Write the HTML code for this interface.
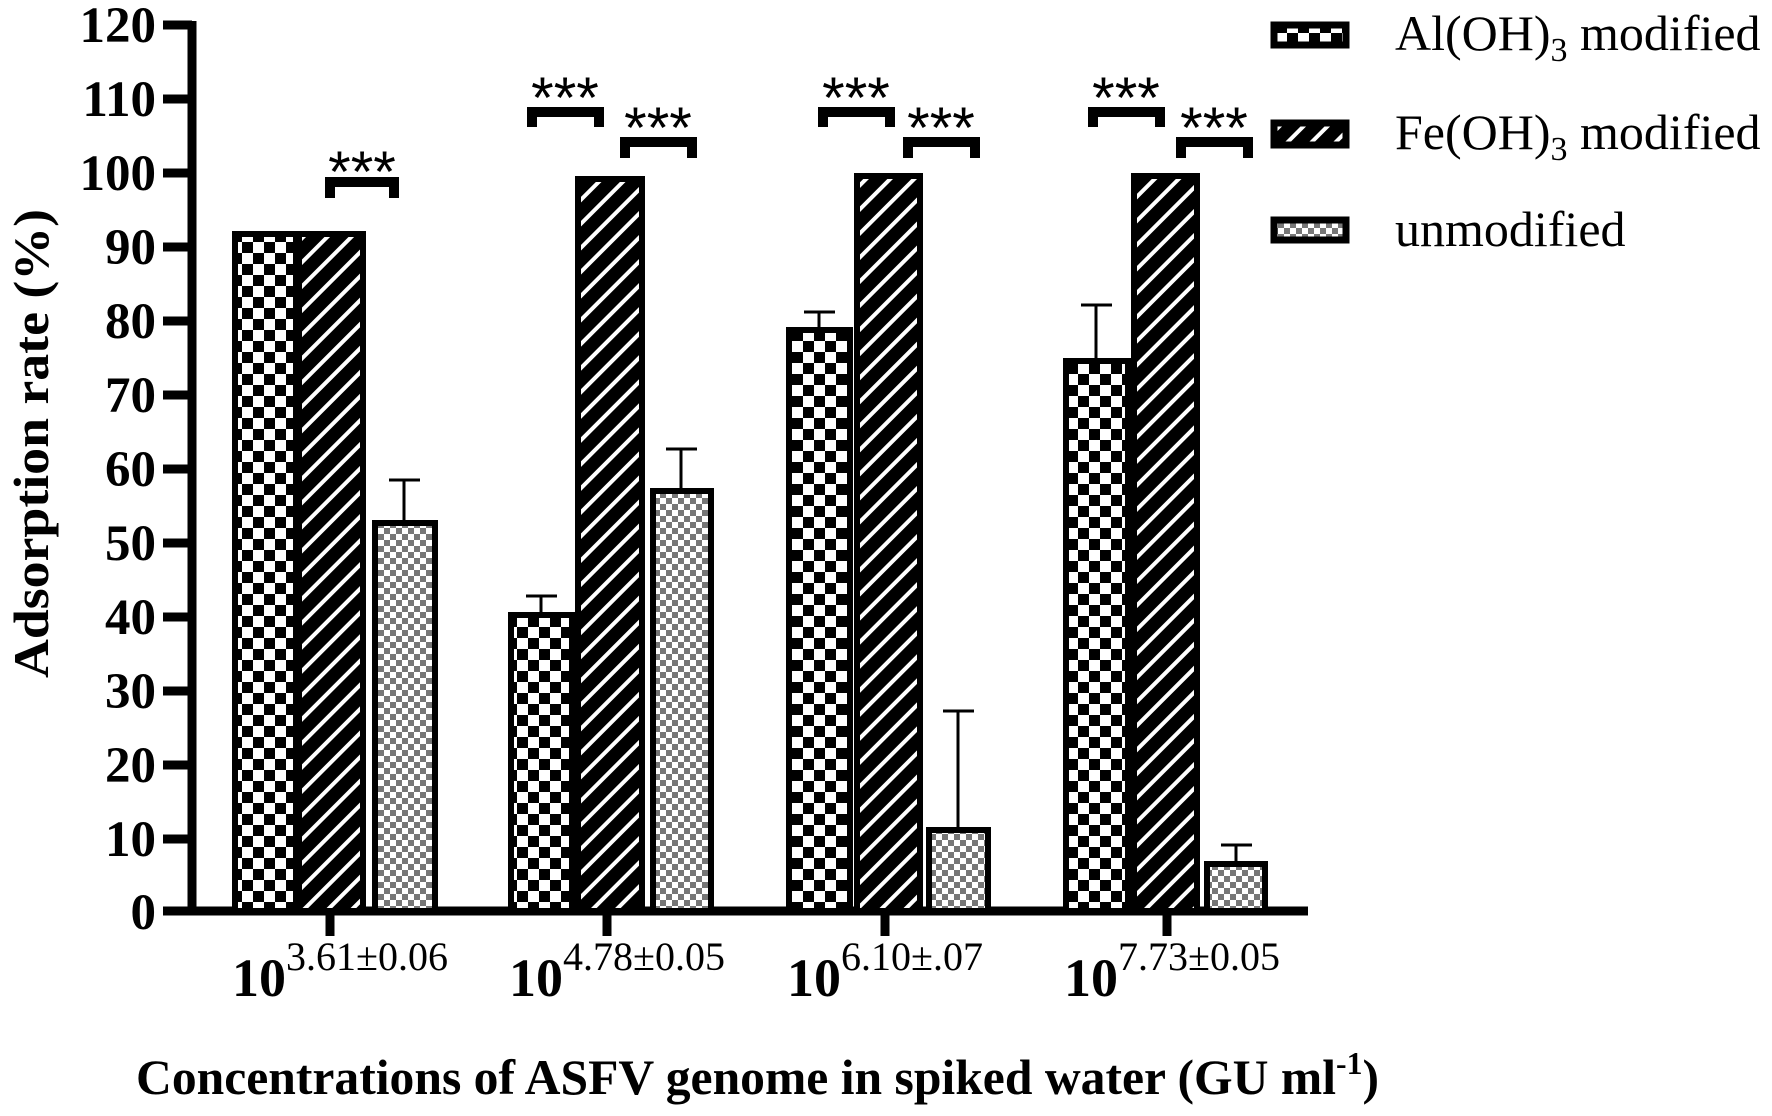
<!DOCTYPE html>
<html><head><meta charset="utf-8"><style>body{margin:0;background:#fff}svg{display:block}</style></head><body>
<svg width="1772" height="1116" viewBox="0 0 1772 1116" xmlns="http://www.w3.org/2000/svg">
<defs>
<pattern id="chk" width="22" height="22" patternUnits="userSpaceOnUse">
<rect width="22" height="22" fill="#fff"/><rect width="11" height="11" fill="#000"/><rect x="11" y="11" width="11" height="11" fill="#000"/></pattern>
<pattern id="hat" width="17" height="17" patternUnits="userSpaceOnUse" patternTransform="rotate(45)">
<rect width="17" height="17" fill="#000"/><rect x="6" width="4" height="17" fill="#fff"/></pattern>
<pattern id="gry" width="12" height="12" patternUnits="userSpaceOnUse">
<rect width="12" height="12" fill="#fff"/><rect width="6" height="6" fill="#777"/><rect x="6" y="6" width="6" height="6" fill="#777"/></pattern>
</defs>
<g font-family="Liberation Serif, serif" font-weight="bold" font-size="51" text-anchor="end">
<text x="156" y="42">120</text><text x="156" y="116">110</text><text x="156" y="190">100</text>
<text x="156" y="264">90</text><text x="156" y="338">80</text><text x="156" y="412">70</text>
<text x="156" y="486">60</text><text x="156" y="560">50</text><text x="156" y="634">40</text>
<text x="156" y="708">30</text><text x="156" y="782">20</text><text x="156" y="856">10</text>
<text x="156" y="929">0</text>
</g>
<g stroke="#000" stroke-width="9" fill="none">
<line x1="192" y1="21" x2="192" y2="915"/>
<line x1="188" y1="911" x2="1308" y2="911"/>
<line x1="163" y1="25" x2="192" y2="25"/><line x1="163" y1="99" x2="192" y2="99"/><line x1="163" y1="173" x2="192" y2="173"/>
<line x1="163" y1="247" x2="192" y2="247"/><line x1="163" y1="321" x2="192" y2="321"/><line x1="163" y1="395" x2="192" y2="395"/>
<line x1="163" y1="469" x2="192" y2="469"/><line x1="163" y1="543" x2="192" y2="543"/><line x1="163" y1="617" x2="192" y2="617"/>
<line x1="163" y1="691" x2="192" y2="691"/><line x1="163" y1="765" x2="192" y2="765"/><line x1="163" y1="839" x2="192" y2="839"/>
<line x1="163" y1="911" x2="192" y2="911"/>
<line x1="330" y1="911" x2="330" y2="936"/><line x1="607" y1="911" x2="607" y2="936"/>
<line x1="885" y1="911" x2="885" y2="936"/><line x1="1167" y1="911" x2="1167" y2="936"/>
</g>
<g stroke="#000" stroke-width="3">
<line x1="404" y1="523" x2="404" y2="480"/><line x1="389" y1="480" x2="420" y2="480"/>
<line x1="541" y1="615" x2="541" y2="596"/><line x1="526" y1="596" x2="557" y2="596"/>
<line x1="681" y1="491" x2="681" y2="449"/><line x1="666" y1="449" x2="697" y2="449"/>
<line x1="819" y1="330" x2="819" y2="312"/><line x1="804" y1="312" x2="835" y2="312"/>
<line x1="958" y1="830" x2="958" y2="711"/><line x1="943" y1="711" x2="974" y2="711"/>
<line x1="1096" y1="361" x2="1096" y2="305"/><line x1="1081" y1="305" x2="1112" y2="305"/>
<line x1="1236" y1="864" x2="1236" y2="845"/><line x1="1221" y1="845" x2="1252" y2="845"/>
</g>
<g stroke="#000" stroke-width="6">
<rect x="235" y="234" width="61" height="677" fill="url(#chk)"/>
<rect x="299" y="234" width="64" height="677" fill="url(#hat)"/>
<rect x="375" y="523" width="60" height="388" fill="url(#gry)"/>
<rect x="511" y="615" width="61" height="296" fill="url(#chk)"/>
<rect x="578" y="179" width="64" height="732" fill="url(#hat)"/>
<rect x="653" y="491" width="58" height="420" fill="url(#gry)"/>
<rect x="789" y="330" width="61" height="581" fill="url(#chk)"/>
<rect x="857" y="176" width="63" height="735" fill="url(#hat)"/>
<rect x="929" y="830" width="59" height="81" fill="url(#gry)"/>
<rect x="1066" y="361" width="62" height="550" fill="url(#chk)"/>
<rect x="1134" y="176" width="63" height="735" fill="url(#hat)"/>
<rect x="1207" y="864" width="58" height="47" fill="url(#gry)"/>
</g>
<g stroke="#000" stroke-width="10" fill="none">
<path d="M330 198 V182 H394 V198"/>
<path d="M532 127 V112 H599 V127"/>
<path d="M625 158 V142 H692 V158"/>
<path d="M823 127 V112 H890 V127"/>
<path d="M908 158 V142 H975 V158"/>
<path d="M1093 127 V112 H1160 V127"/>
<path d="M1181 158 V142 H1248 V158"/>
</g>
<g font-family="Liberation Sans, sans-serif" font-size="58" text-anchor="middle">
<text x="362" y="192">***</text>
<text x="565" y="118">***</text><text x="658" y="148">***</text>
<text x="856" y="118">***</text><text x="941" y="148">***</text>
<text x="1126" y="118">***</text><text x="1214" y="148">***</text>
</g>
<g font-family="Liberation Serif, serif">
<text x="232" y="996" font-size="54" font-weight="bold">10<tspan font-weight="normal" font-size="40" dy="-26">3.61±0.06</tspan></text>
<text x="509" y="996" font-size="54" font-weight="bold">10<tspan font-weight="normal" font-size="40" dy="-26">4.78±0.05</tspan></text>
<text x="787" y="996" font-size="54" font-weight="bold">10<tspan font-weight="normal" font-size="40" dy="-26">6.10±.07</tspan></text>
<text x="1064" y="996" font-size="54" font-weight="bold">10<tspan font-weight="normal" font-size="40" dy="-26">7.73±0.05</tspan></text>
<text x="136" y="1094" font-size="50" font-weight="bold" textLength="1243" lengthAdjust="spacingAndGlyphs">Concentrations of ASFV genome in spiked water (GU ml<tspan font-size="32" dy="-20">-1</tspan><tspan dy="20">)</tspan></text>
<text transform="translate(48,678) rotate(-90)" font-size="50" font-weight="bold" textLength="469" lengthAdjust="spacingAndGlyphs">Adsorption rate (%)</text>
</g>
<g stroke="#000" stroke-width="7">
<rect x="1274" y="25" width="72" height="20" fill="url(#chk)"/>
<rect x="1274" y="123" width="72" height="22" fill="url(#hat)"/>
<rect x="1274" y="220" width="72" height="20" fill="url(#gry)"/>
</g>
<g font-family="Liberation Serif, serif" font-size="50">
<text x="1395" y="50">Al(OH)<tspan font-size="34" dy="11">3</tspan><tspan dy="-11"> modified</tspan></text>
<text x="1395" y="149">Fe(OH)<tspan font-size="34" dy="11">3</tspan><tspan dy="-11"> modified</tspan></text>
<text x="1395" y="246">unmodified</text>
</g>
</svg>
</body></html>
